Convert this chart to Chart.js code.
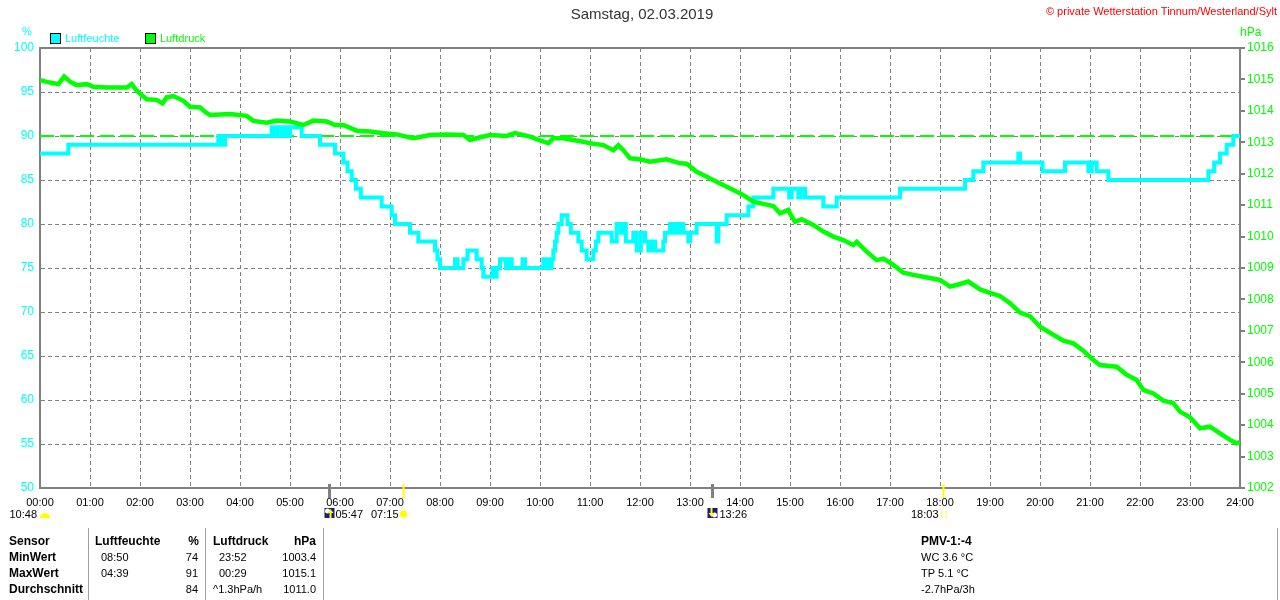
<!DOCTYPE html>
<html>
<head>
<meta charset="utf-8">
<title>Samstag, 02.03.2019</title>
<script src="https://cdn.jsdelivr.net/npm/chart.js@4"></script>
<style>
    html, body { margin: 0; padding: 0; background: #fff; }
</style>
</head>
<body>
<canvas id="myChart" width="1280" height="600"></canvas>
<script>
// Luftfeuchte: minute of the day where the value changes, and the new value
const humMinutes = [0, 34, 214, 218, 222, 278, 281, 285, 290, 293, 297, 300, 314, 336, 354,
    364, 369, 374, 379, 385, 410, 422, 426, 444, 454, 474, 477, 480, 498, 501, 508, 513, 524, 530, 532,
    543, 546, 548, 552, 559, 562, 566, 579, 582, 604, 606, 609, 611, 614, 616, 618, 620, 622, 626,
    633, 637, 646, 650, 656, 664, 667, 670, 686, 692, 697, 700, 703, 712, 716, 721, 726, 730, 734,
    738, 748, 750, 756, 760, 763, 767, 769, 772, 778, 780, 788, 812, 814, 824, 850, 856, 880, 899,
    902, 910, 913, 918, 940, 956, 1032, 1110, 1120, 1132, 1174, 1176, 1203, 1230, 1258, 1262, 1268,
    1282, 1402, 1409, 1416, 1424, 1432, 1440];
const humValues = [88, 89, 90, 89, 90, 91, 90, 91, 90, 91, 90, 91, 90, 89, 88,
    87, 86, 85, 84, 83, 82, 81, 80, 79, 78, 77, 76, 75, 76, 75, 76, 77, 76, 75, 74,
    75, 74, 75, 76, 75, 76, 75, 76, 75, 76, 75, 76, 75, 76, 77, 78, 79, 80, 81,
    80, 79, 78, 77, 76, 77, 78, 79, 78, 80, 79, 80, 78, 79, 77, 79, 78, 77, 78,
    77, 78, 79, 80, 79, 80, 79, 80, 79, 78, 79, 80, 78, 80, 81, 82, 83, 84, 83,
    84, 83, 84, 83, 82, 83, 84, 85, 86, 87, 88, 87, 86, 87, 86, 87, 86,
    85, 86, 87, 88, 89, 90, 90];

// Luftdruck in hPa
const pressMinutes = [0, 12, 22, 29, 36, 44, 56, 64, 80, 104, 110, 116, 128, 140, 147, 152, 160, 172,
    180, 192, 198, 204, 228, 248, 256, 272, 284, 300, 316, 328, 344, 354, 364, 380, 396, 412, 428,
    448, 468, 488, 508, 516, 528, 540, 560, 570, 588, 596, 610, 616, 628, 640, 652, 660, 676, 688,
    694, 700, 708, 720, 732, 752, 768, 776, 788, 800, 816, 832, 844, 856, 868, 880, 888, 898, 900,
    906, 914, 928, 940, 952, 964, 976, 980, 992, 1004, 1012, 1024, 1036, 1048, 1060, 1068, 1080,
    1092, 1100, 1114, 1128, 1140, 1152, 1164, 1176, 1188, 1200, 1212, 1228, 1240, 1252, 1264, 1272,
    1292, 1304, 1316, 1324, 1336, 1348, 1360, 1368, 1380, 1392, 1404, 1416, 1428, 1436, 1440];
const pressValues = [1014.98, 1014.90, 1014.85, 1015.09, 1014.93, 1014.82, 1014.85, 1014.77, 1014.74,
    1014.74, 1014.85, 1014.64, 1014.37, 1014.35, 1014.24, 1014.43, 1014.47, 1014.32, 1014.13, 1014.11,
    1013.97, 1013.87, 1013.90, 1013.84, 1013.68, 1013.62, 1013.69, 1013.66, 1013.55, 1013.69, 1013.66,
    1013.55, 1013.55, 1013.37, 1013.34, 1013.29, 1013.25, 1013.13, 1013.23, 1013.25, 1013.23, 1013.07,
    1013.16, 1013.23, 1013.20, 1013.29, 1013.18, 1013.10, 1012.97, 1013.13, 1013.13, 1013.07, 1013.02,
    1012.97, 1012.91, 1012.75, 1012.91, 1012.75, 1012.49, 1012.46, 1012.38, 1012.46, 1012.33, 1012.32,
    1012.06, 1011.90, 1011.69, 1011.48, 1011.32, 1011.11, 1011.04, 1010.97, 1010.74, 1010.85, 1010.74,
    1010.47, 1010.55, 1010.37, 1010.16, 1010.00, 1009.89, 1009.73, 1009.83, 1009.52, 1009.25, 1009.30,
    1009.10, 1008.85, 1008.78, 1008.72, 1008.68, 1008.62, 1008.41, 1008.46, 1008.57, 1008.32, 1008.21,
    1008.11, 1007.88, 1007.58, 1007.47, 1007.13, 1006.94, 1006.69, 1006.60, 1006.37, 1006.07, 1005.91,
    1005.86, 1005.60, 1005.44, 1005.12, 1005.01, 1004.78, 1004.70, 1004.43, 1004.25, 1003.90, 1003.95,
    1003.74, 1003.53, 1003.42, 1003.46];

const refLineValue = 90;

const xTickLabels = ['00:00', '01:00', '02:00', '03:00', '04:00', '05:00', '06:00', '07:00', '08:00',
    '09:00', '10:00', '11:00', '12:00', '13:00', '14:00', '15:00', '16:00', '17:00', '18:00',
    '19:00', '20:00', '21:00', '22:00', '23:00', '24:00'];

// Mond- und Sonnenzeiten
const eventLabels = ['05:47', '07:15', '13:26', '18:03'];
const eventMinutes = [347, 435, 806, 1083];
const eventKinds = ['moonrise', 'sunrise', 'moonset', 'sunset'];
const dayLength = '10:48';

// Tabelle unten
const tableHeader = ['Sensor', 'Luftfeuchte', '%', 'Luftdruck', 'hPa'];
const tableRowNames = ['MinWert', 'MaxWert', 'Durchschnitt'];
const humTimes = ['08:50', '04:39', ''];
const humStats = ['74', '91', '84'];
const pressTimes = ['23:52', '00:29', '^1.3hPa/h'];
const pressStats = ['1003.4', '1015.1', '1011.0'];
const extraInfo = ['PMV-1:-4', 'WC 3.6 °C', 'TP 5.1 °C', '-2.7hPa/3h'];

const FONT = '"Liberation Sans", Arial, sans-serif';
const CYAN = '#00ffff';
const GREEN = '#00ff00';
const GRID = '#808080';

function toPoints(xs, ys) {
    return xs.map((m, i) => ({ x: m, y: ys[i] }));
}

function text(ctx, str, x, y, font, color, align) {
    ctx.font = font;
    ctx.fillStyle = color;
    ctx.textAlign = align || 'left';
    ctx.textBaseline = 'middle';
    ctx.fillText(str, x, y);
}

function moonIcon(ctx, cx, rising) {
    ctx.fillStyle = '#1c1c80';
    ctx.fillRect(cx - 5, 508, 10, 10);
    ctx.fillStyle = '#ffffff';
    ctx.beginPath();
    if (rising) ctx.arc(cx - 2, 511, 2.5, 0, Math.PI * 2);
    else ctx.arc(cx + 2, 515, 2.5, 0, Math.PI * 2);
    ctx.fill();
    ctx.strokeStyle = '#ffff00';
    ctx.fillStyle = '#ffff00';
    ctx.lineWidth = 2;
    ctx.beginPath();
    if (rising) {
        ctx.moveTo(cx + 1, 518); ctx.lineTo(cx + 1, 512); ctx.stroke();
        ctx.beginPath(); ctx.moveTo(cx - 2, 513); ctx.lineTo(cx + 1, 509); ctx.lineTo(cx + 4, 513); ctx.fill();
    } else {
        ctx.moveTo(cx - 1, 508); ctx.lineTo(cx - 1, 514); ctx.stroke();
        ctx.beginPath(); ctx.moveTo(cx - 4, 513); ctx.lineTo(cx - 1, 517); ctx.lineTo(cx + 2, 513); ctx.fill();
    }
}

function sunIcon(ctx, cx) {
    ctx.strokeStyle = '#ffff99';
    ctx.lineWidth = 1;
    for (let i = 0; i < 8; i++) {
        const a = i * Math.PI / 4;
        ctx.beginPath();
        ctx.moveTo(cx + Math.cos(a) * 4, 514 + Math.sin(a) * 4);
        ctx.lineTo(cx + Math.cos(a) * 6, 514 + Math.sin(a) * 6);
        ctx.stroke();
    }
    ctx.fillStyle = '#ffff00';
    ctx.beginPath();
    ctx.arc(cx, 514, 3.5, 0, Math.PI * 2);
    ctx.fill();
}

const extrasPlugin = {
    id: 'extras',
    beforeDatasetsDraw(chart) {
        const { ctx, chartArea: a } = chart;
        ctx.save();
        ctx.strokeStyle = GRID;
        ctx.lineWidth = 2;
        ctx.strokeRect(a.left, a.top, a.right - a.left, a.bottom - a.top);
        ctx.restore();
    },
    afterDraw(chart) {
        const ctx = chart.ctx;
        const xs = chart.scales.x;
        ctx.save();

        text(ctx, 'Samstag, 02.03.2019', 642, 15, '15px ' + FONT, '#333333', 'center');
        text(ctx, '© private Wetterstation Tinnum/Westerland/Sylt', 1277, 12, '11px ' + FONT, '#ff0000', 'right');

        // Legende
        ctx.lineWidth = 1;
        ctx.strokeStyle = '#000';
        ctx.fillStyle = CYAN;
        ctx.fillRect(50.5, 33.5, 10, 10);
        ctx.strokeRect(50.5, 33.5, 10, 10);
        text(ctx, 'Luftfeuchte', 65, 38.5, '11px ' + FONT, CYAN);
        ctx.fillStyle = GREEN;
        ctx.fillRect(145.5, 33.5, 10, 10);
        ctx.strokeRect(145.5, 33.5, 10, 10);
        text(ctx, 'Luftdruck', 160, 38.5, '11px ' + FONT, GREEN);

        text(ctx, '%', 27, 32, '11px ' + FONT, CYAN, 'center');
        text(ctx, 'hPa', 1240, 33, '12px ' + FONT, GREEN);

        // Mond / Sonne
        eventMinutes.forEach((m, i) => {
            const px = Math.round(xs.getPixelForValue(m)) + 0.5;
            const kind = eventKinds[i];
            const sun = kind.indexOf('sun') === 0;
            ctx.strokeStyle = sun ? '#ffff00' : GRID;
            ctx.lineWidth = sun ? 2 : 3;
            ctx.beginPath();
            ctx.moveTo(px, 484);
            ctx.lineTo(px, 498);
            ctx.stroke();
            if (kind === 'moonrise') {
                moonIcon(ctx, px, true);
                text(ctx, eventLabels[i], px + 6, 515, '11px ' + FONT, '#000');
            } else if (kind === 'moonset') {
                moonIcon(ctx, px, false);
                text(ctx, eventLabels[i], px + 7, 515, '11px ' + FONT, '#000');
            } else if (kind === 'sunrise') {
                sunIcon(ctx, px);
                text(ctx, eventLabels[i], px - 5, 515, '11px ' + FONT, '#000', 'right');
            } else {
                ctx.strokeStyle = '#ffff66';
                ctx.lineWidth = 1;
                ctx.strokeRect(px - 2, 512, 5, 5);
                text(ctx, eventLabels[i], px - 5, 515, '11px ' + FONT, '#000', 'right');
            }
        });
        text(ctx, dayLength, 37, 515, '11px ' + FONT, '#000', 'right');
        ctx.fillStyle = '#ffff00';
        ctx.beginPath();
        ctx.ellipse(45, 518, 5, 5, 0, Math.PI, 0);
        ctx.fill();

        // Tabelle
        ctx.strokeStyle = '#a0a0a0';
        ctx.lineWidth = 1;
        [88.5, 205.5, 323.5, 1277.5].forEach(x => {
            ctx.beginPath();
            ctx.moveTo(x, 528);
            ctx.lineTo(x, 600);
            ctx.stroke();
        });
        const bold = 'bold 12px ' + FONT;
        const reg = '11px ' + FONT;
        const rowsY = [542, 558, 574, 590];
        text(ctx, tableHeader[0], 9, rowsY[0], bold, '#000');
        text(ctx, tableHeader[1], 95, rowsY[0], bold, '#000');
        text(ctx, tableHeader[2], 199, rowsY[0], bold, '#000', 'right');
        text(ctx, tableHeader[3], 213, rowsY[0], bold, '#000');
        text(ctx, tableHeader[4], 316, rowsY[0], bold, '#000', 'right');
        tableRowNames.forEach((name, i) => {
            const y = rowsY[i + 1];
            text(ctx, name, 9, y, bold, '#000');
            text(ctx, humTimes[i], 101, y, reg, '#000');
            text(ctx, humStats[i], 198, y, reg, '#000', 'right');
            text(ctx, pressTimes[i], pressTimes[i].indexOf(':') === 2 ? 219 : 213, y, reg, '#000');
            text(ctx, pressStats[i], 316, y, reg, '#000', 'right');
        });
        extraInfo.forEach((s, i) => {
            text(ctx, s, 921, rowsY[i], i === 0 ? bold : reg, '#000');
        });

        ctx.restore();
    }
};

Chart.defaults.font.family = FONT;
Chart.defaults.color = '#000';

var ctx = document.getElementById('myChart').getContext('2d');
var myChart = new Chart(ctx, {
    type: 'line',
    data: {
        datasets: [{
            label: 'Luftdruck',
            data: toPoints(pressMinutes, pressValues),
            yAxisID: 'yPress',
            borderColor: GREEN,
            borderWidth: 4.5,
            pointRadius: 0,
            tension: 0,
            order: 0
        }, {
            label: 'Luftfeuchte',
            data: toPoints(humMinutes, humValues),
            yAxisID: 'yHum',
            borderColor: CYAN,
            borderWidth: 4,
            pointRadius: 0,
            stepped: true,
            order: 1
        }, {
            label: 'ref',
            data: [{ x: 0, y: refLineValue }, { x: 1440, y: refLineValue }],
            yAxisID: 'yHum',
            borderColor: GREEN,
            borderWidth: 2,
            borderDash: [14, 6],
            pointRadius: 0,
            order: 2
        }]
    },
    options: {
        responsive: false,
        animation: false,
        devicePixelRatio: 1,
        layout: { padding: { top: 48, left: 0, right: 0, bottom: 0 } },
        plugins: {
            legend: { display: false },
            title: { display: false },
            tooltip: { enabled: false }
        },
        scales: {
            x: {
                type: 'linear',
                min: 0,
                max: 1440,
                afterFit: s => { s.height = 112; },
                ticks: {
                    stepSize: 60,
                    autoSkip: false,
                    maxRotation: 0,
                    padding: 8,
                    color: '#000',
                    font: { size: 11 },
                    callback: v => xTickLabels[v / 60]
                },
                grid: { color: GRID, lineWidth: 1, drawTicks: false },
                border: { color: GRID, width: 2, dash: [4, 3] }
            },
            yHum: {
                position: 'left',
                min: 50,
                max: 100,
                afterFit: s => { s.width = 40; },
                ticks: { stepSize: 5, padding: 6, color: CYAN, font: { size: 12 } },
                grid: { color: GRID, lineWidth: 1, drawTicks: false },
                border: { color: GRID, width: 2, dash: [4, 3] }
            },
            yPress: {
                position: 'right',
                min: 1002,
                max: 1016,
                afterFit: s => { s.width = 40; },
                ticks: { stepSize: 1, padding: 2, color: GREEN, font: { size: 12 }, callback: v => String(v) },
                grid: { drawOnChartArea: false, drawTicks: true, tickLength: 5, color: GRID, lineWidth: 2 },
                border: { color: GRID, width: 2 }
            }
        }
    },
    plugins: [extrasPlugin]
});
</script>
</body>
</html>
